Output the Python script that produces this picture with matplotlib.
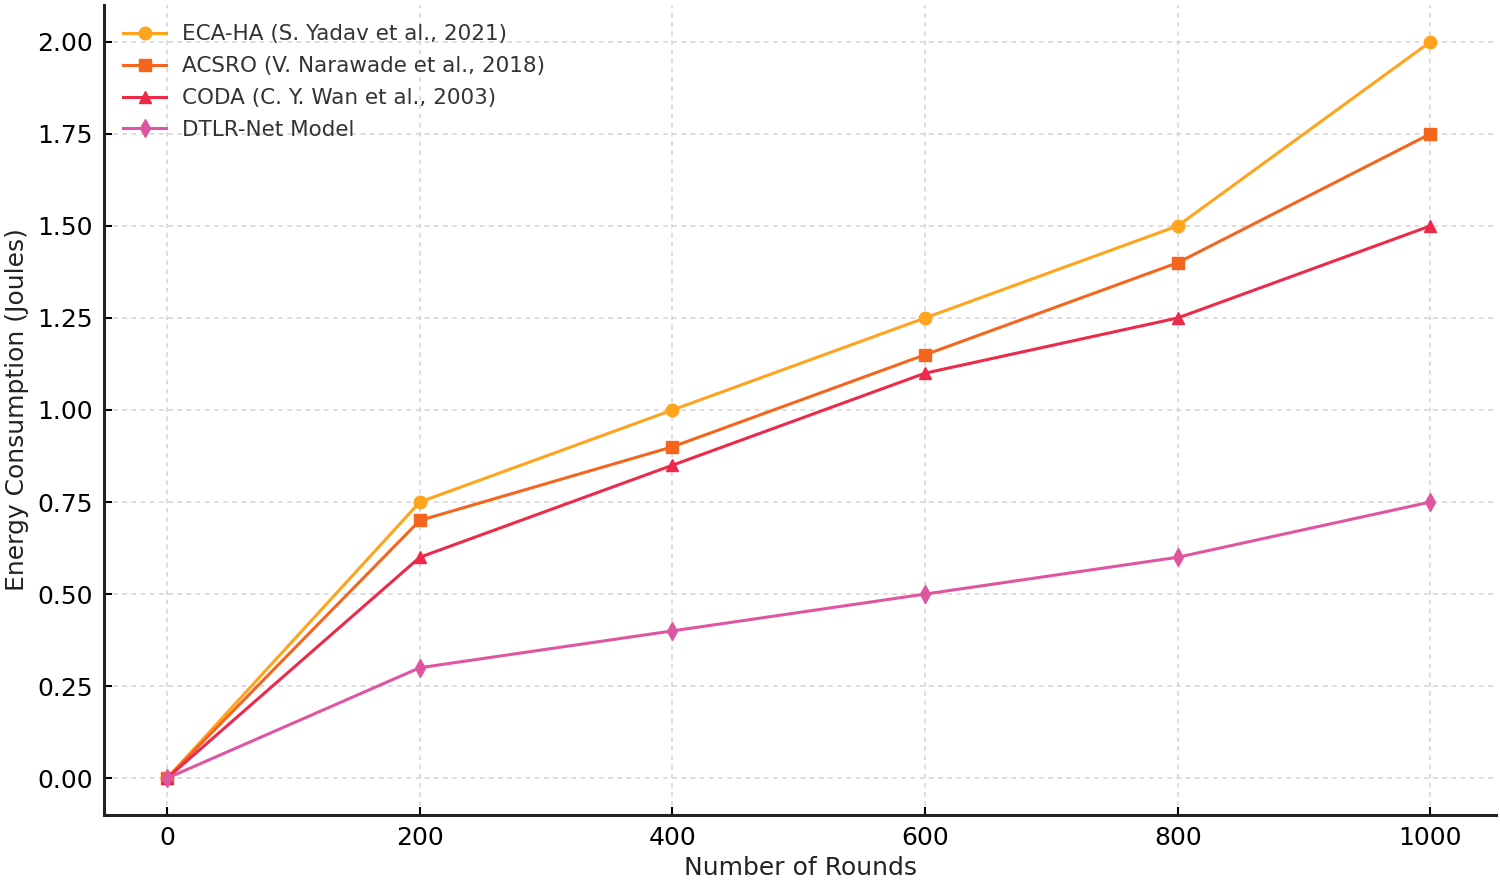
import numpy as np
import matplotlib
matplotlib.use("Agg")
import matplotlib.pyplot as plt

# data
rounds = [0, 200, 400, 600, 800, 1000]
eca_ha = [0.0, 0.75, 1.00, 1.25, 1.50, 2.00]
acsro = [0.0, 0.70, 0.90, 1.15, 1.40, 1.75]
coda = [0.0, 0.60, 0.85, 1.10, 1.25, 1.50]
dtlr = [0.0, 0.30, 0.40, 0.50, 0.60, 0.75]

names = ["ECA-HA (S. Yadav et al., 2021)",
         "ACSRO (V. Narawade et al., 2018)",
         "CODA (C. Y. Wan et al., 2003)",
         "DTLR-Net Model"]
yticks = [0.0, 0.25, 0.5, 0.75, 1.0, 1.25, 1.5, 1.75, 2.0]
xticks = [0, 200, 400, 600, 800, 1000]

fig = plt.figure(figsize=(15, 8.81), dpi=100)
# the reference is a crop, so top / right edges sit at the figure border
ax = fig.add_axes([104/1500, (881-815)/881, (1496-104)/1500, (815-5)/881])

series = [eca_ha, acsro, coda, dtlr]
colors = ["#FFA41C", "#F4661E", "#EC2A4B", "#DF56A0"]
markers = ["o", "s", "^", "d"]
for vals, nm, c, m in zip(series, names, colors, markers):
    ax.plot(rounds, vals, color=c, marker=m, markersize=9, linewidth=2.2, label=nm)

ax.set_xlim(-50, 1052)
ax.set_ylim(-0.1, 2.1)
ax.set_xticks(xticks)
ax.set_yticks(yticks)
ax.set_yticklabels(["%.2f" % v for v in yticks])
ax.tick_params(direction="in", length=6, width=1.5, labelsize=18, pad=8)
ax.grid(True, linestyle=(0, (3, 3)), color="#d3d3d3", linewidth=1.1)

for s in ["top", "right"]:
    ax.spines[s].set_visible(False)
for s in ["left", "bottom"]:
    ax.spines[s].set_linewidth(2.2)
    ax.spines[s].set_color("#222222")

ax.set_xlabel("Number of Rounds", fontsize=18, labelpad=4, color="#222222")
ax.set_ylabel("Energy Consumption (Joules)", fontsize=18, labelpad=6, color="#222222")

leg = ax.legend(loc="upper left", frameon=False, fontsize=15.5,
                bbox_to_anchor=(0.0, 1.0), handlelength=2.0, handletextpad=0.7,
                labelspacing=0.55)
for t in leg.get_texts():
    t.set_color("#333333")

fig.savefig("out.png", dpi=100)
